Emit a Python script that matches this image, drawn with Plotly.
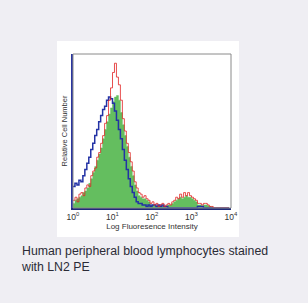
import plotly.graph_objects as go

# channel positions: log10 intensity in 0.05-decade steps (80 channels over 4 decades)
log_channels = [k * 0.05 for k in range(80)]
intensity = [10 ** v for v in log_channels]

green_counts = [
    0.03, 0.05, 0.06, 0.07, 0.08, 0.10, 0.11, 0.13, 0.16, 0.19,
    0.23, 0.27, 0.31, 0.35, 0.39, 0.45, 0.51, 0.56, 0.61, 0.65,
    0.69, 0.72, 0.73, 0.70, 0.62, 0.54, 0.47, 0.40, 0.33, 0.27,
    0.21, 0.15, 0.11, 0.08, 0.07, 0.06, 0.06, 0.05, 0.04, 0.02,
    0.02, 0.015, 0.01, 0.01, 0.015, 0.01, 0.01, 0.015, 0.02, 0.02,
    0.03, 0.04, 0.05, 0.06, 0.07, 0.06, 0.07, 0.08, 0.07, 0.07,
    0.06, 0.05, 0.04, 0.02, 0.02, 0.015, 0.02, 0.02, 0.015, 0.01,
    0.005, 0, 0, 0, 0, 0, 0, 0, 0, 0,
]
red_counts = [
    0.05, 0.07, 0.04, 0.09, 0.10, 0.08, 0.13, 0.15, 0.14, 0.21,
    0.24, 0.26, 0.33, 0.36, 0.42, 0.47, 0.55, 0.60, 0.70, 0.78,
    0.88, 0.94, 0.85, 0.80, 0.70, 0.58, 0.50, 0.42, 0.36, 0.30,
    0.24, 0.17, 0.13, 0.10, 0.09, 0.07, 0.08, 0.06, 0.05, 0.03,
    0.04, 0.02, 0.03, 0.01, 0.02, 0.03, 0.01, 0.02, 0.03, 0.02,
    0.04, 0.05, 0.07, 0.06, 0.09, 0.07, 0.10, 0.08, 0.10, 0.08,
    0.07, 0.06, 0.05, 0.03, 0.03, 0.02, 0.03, 0.03, 0.02, 0.01,
    0.01, 0, 0, 0, 0, 0, 0, 0, 0, 0,
]
blue_counts = [
    0.14, 0.16, 0.15, 0.18, 0.17, 0.21, 0.25, 0.29, 0.33, 0.38,
    0.42, 0.47, 0.51, 0.56, 0.60, 0.64, 0.66, 0.70, 0.72, 0.71,
    0.68, 0.63, 0.57, 0.51, 0.45, 0.38, 0.31, 0.25, 0.19, 0.14,
    0.10, 0.07, 0.04, 0.03, 0.03, 0.02, 0.02, 0.01, 0.02, 0.01,
    0.02, 0.02, 0.01, 0.02, 0.01, 0.02, 0.01, 0.01, 0, 0,
    0, 0, 0, 0, 0, 0, 0, 0, 0, 0,
    0, 0, 0, 0.01, 0.01, 0.01, 0, 0, 0, 0,
    0, 0, 0, 0, 0, 0, 0, 0, 0, 0,
]

tick_vals = [1, 10, 100, 1000, 10000]
tick_text = ["10<sup>0</sup>", "10<sup>1</sup>", "10<sup>2</sup>", "10<sup>3</sup>", "10<sup>4</sup>"]

x_title = "Log Fluoresence Intensity"
y_title = "Relative Cell Number"
caption = "Human peripheral blood lymphocytes stained<br>with LN2 PE"

FONT = "Liberation Sans, Arial"

fig = go.Figure()
fig.add_trace(go.Scatter(x=intensity, y=green_counts, mode="lines", line_shape="hv",
                         line=dict(color="rgb(100,190,95)", width=0.5),
                         fill="tozeroy", fillcolor="rgb(100,190,95)", hoverinfo="skip"))
fig.add_trace(go.Scatter(x=intensity, y=blue_counts, mode="lines", line_shape="hv",
                         line=dict(color="rgb(35,50,165)", width=1.5), hoverinfo="skip"))
fig.add_trace(go.Scatter(x=intensity, y=red_counts, mode="lines", line_shape="hv",
                         line=dict(color="rgba(225,35,35,0.8)", width=1), hoverinfo="skip"))

# white panel behind the plot
fig.add_shape(type="rect", xref="paper", yref="paper", x0=-0.101, x1=1.051, y0=-0.188, y1=1.084,
              fillcolor="white", line=dict(width=0), layer="below")
# gray frame of the plot area
fig.add_shape(type="rect", xref="paper", yref="paper", x0=0, x1=1, y0=0, y1=1,
              line=dict(color="#8a8a8a", width=1), layer="above")

fig.add_annotation(xref="paper", yref="paper", x=-0.342, y=-0.222, xanchor="left", yanchor="top",
                   text=caption, showarrow=False, align="left",
                   font=dict(family=FONT, size=12.3, color="#2b2b36"))

fig.update_layout(
    width=308, height=303,
    margin=dict(l=73, r=77, t=54, b=95),
    paper_bgcolor="#efeef3",
    plot_bgcolor="white",
    showlegend=False,
    xaxis=dict(type="log", range=[0, 4], tickvals=tick_vals, ticktext=tick_text,
               showgrid=False, zeroline=False, showline=True, linecolor="#1f2a7a", linewidth=1.5,
               ticks="", tickfont=dict(family=FONT, size=8.5, color="#333"),
               title=dict(text=x_title, standoff=2,
                          font=dict(family=FONT, size=8, color="#333"))),
    yaxis=dict(range=[0, 1.0], showticklabels=False, showgrid=False, zeroline=False,
               showline=True, linecolor="#2a36a0", linewidth=1.5, ticks="",
               title=dict(text=y_title, standoff=3,
                          font=dict(family=FONT, size=7.5, color="#333"))),
)

fig.write_html("out.html")
